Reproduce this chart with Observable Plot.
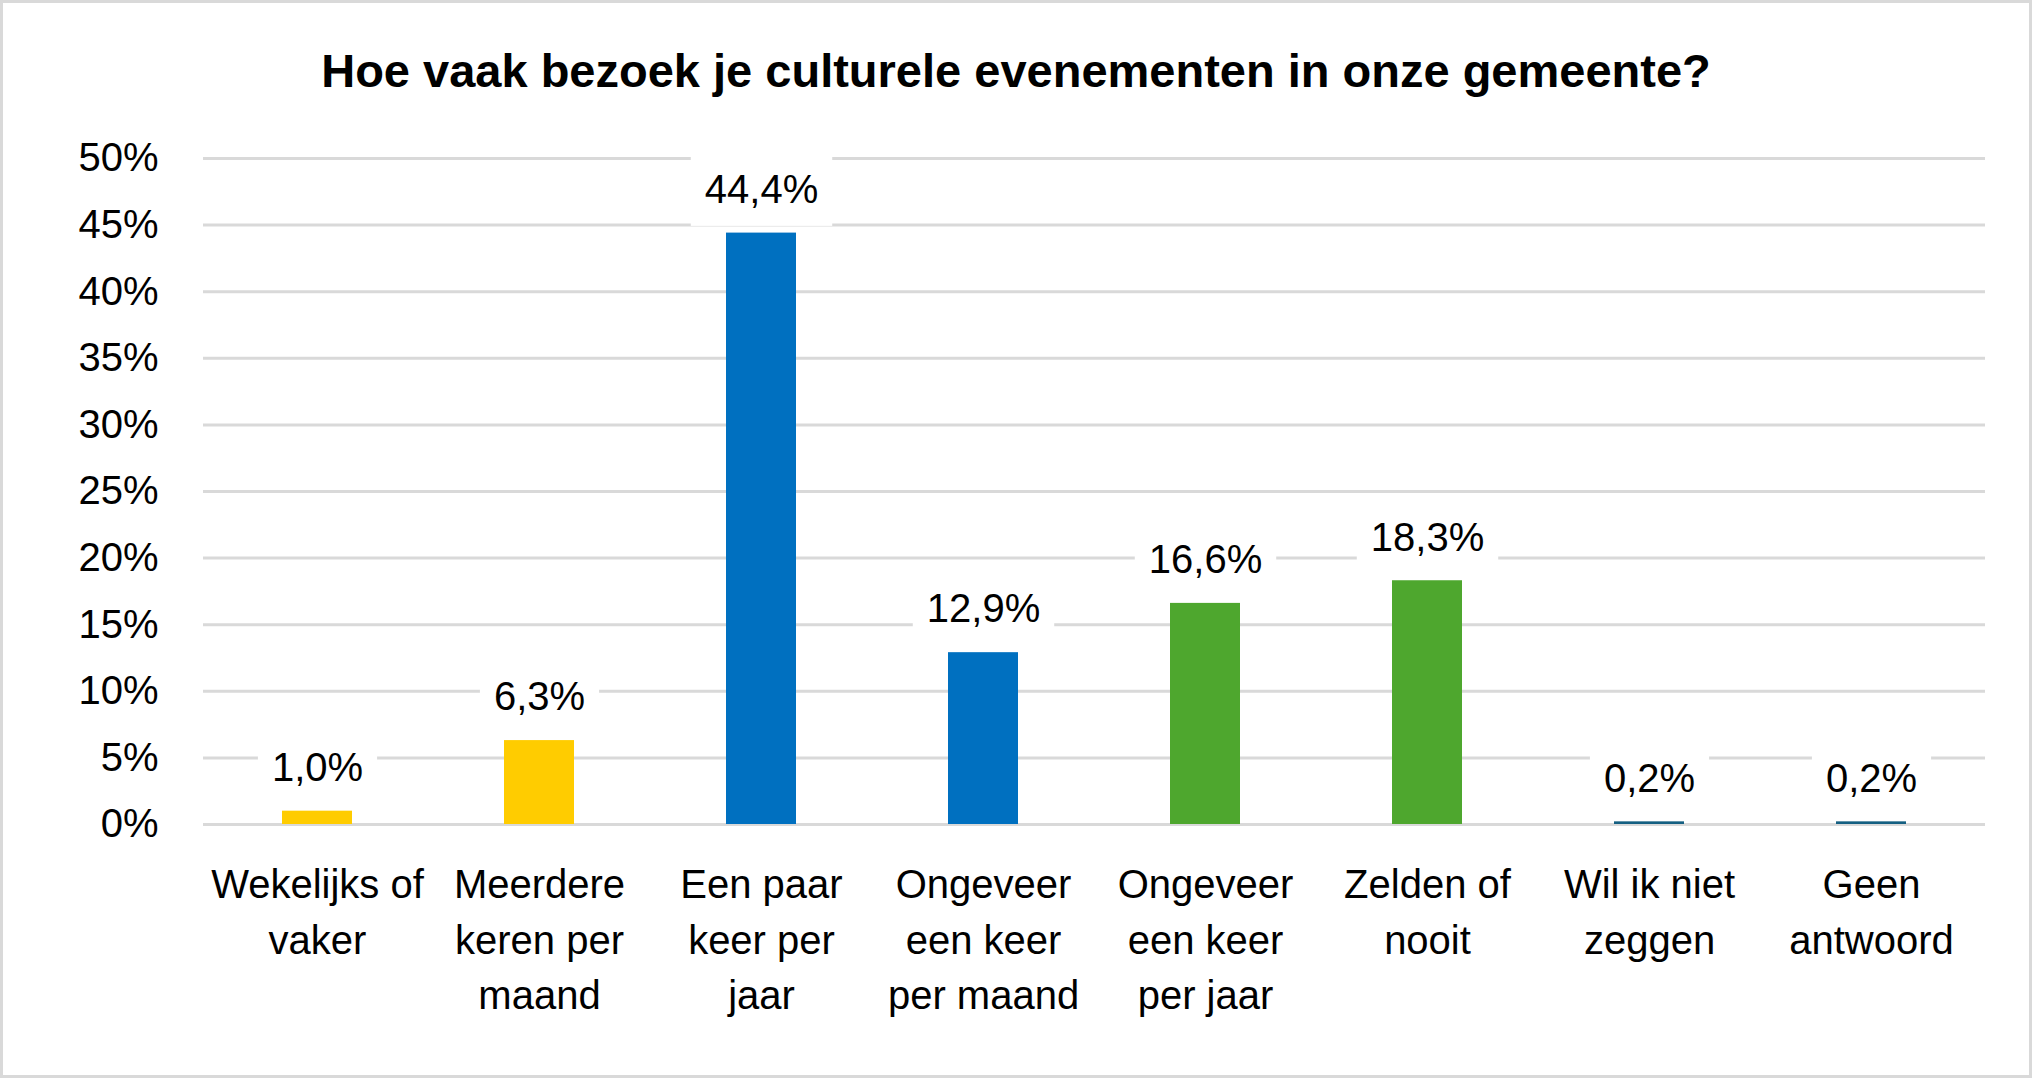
<!DOCTYPE html>
<html><head><meta charset="utf-8">
<script src="https://cdn.jsdelivr.net/npm/d3@7"></script>
<script src="https://cdn.jsdelivr.net/npm/@observablehq/plot@0.6"></script>
<style>
html,body{margin:0;padding:0;background:#fff;}
body{width:2032px;height:1078px;position:relative;overflow:hidden;font-family:"Liberation Sans",Arial,sans-serif;}
#frame{position:absolute;left:0;top:0;width:2032px;height:1078px;box-sizing:border-box;border:3px solid #d9d9d9;pointer-events:none;}
#title{position:absolute;left:0;top:43px;width:2032px;text-align:center;font-size:47px;font-weight:bold;line-height:56px;color:#000;}
#chart{position:absolute;left:0;top:110px;}
</style></head><body>
<div id="title">Hoe vaak bezoek je culturele evenementen in onze gemeente?</div>
<div id="chart"></div>
<div id="frame"></div>
<script>
const categories = [
  "Wekelijks of vaker",
  "Meerdere keren per maand",
  "Een paar keer per jaar",
  "Ongeveer een keer per maand",
  "Ongeveer een keer per jaar",
  "Zelden of nooit",
  "Wil ik niet zeggen",
  "Geen antwoord"
];
const tickLabels = [
  "Wekelijks of\nvaker",
  "Meerdere\nkeren per\nmaand",
  "Een paar\nkeer per\njaar",
  "Ongeveer\neen keer\nper maand",
  "Ongeveer\neen keer\nper jaar",
  "Zelden of\nnooit",
  "Wil ik niet\nzeggen",
  "Geen\nantwoord"
];
const values = [1.0, 6.3, 44.4, 12.9, 16.6, 18.3, 0.2, 0.2];
const valueLabels = ["1,0%", "6,3%", "44,4%", "12,9%", "16,6%", "18,3%", "0,2%", "0,2%"];
const colors = ["#FFCC00", "#FFCC00", "#0070C0", "#0070C0", "#4EA72E", "#4EA72E", "#156082", "#156082"];
const yTicks = [0, 5, 10, 15, 20, 25, 30, 35, 40, 45, 50];

const data = categories.map((c, i) => ({category: c, value: values[i], label: valueLabels[i], color: colors[i]}));
const tickMap = new Map(categories.map((c, i) => [c, tickLabels[i]]));
const FONT = '"Liberation Sans", Arial, sans-serif';

const plot = Plot.plot({
  width: 2032, height: 965,
  marginTop: 48, marginBottom: 251, marginLeft: 203, marginRight: 47,
  style: {fontFamily: FONT, fontSize: "40px", color: "#000", background: "#fff"},
  x: {domain: categories, padding: 0, label: null},
  y: {domain: [0, 50], label: null},
  color: {type: "identity"},
  marks: [
    Plot.gridY(yTicks, {stroke: "#d9d9d9", strokeOpacity: 1, strokeWidth: 3}),
    Plot.axisY(yTicks, {tickSize: 0, tickPadding: 45, tickFormat: d => d + "%", fontSize: 40, label: null}),
    Plot.axisX({tickSize: 0, tickPadding: 34, tickFormat: d => tickMap.get(d), fontSize: 40, lineHeight: 1.39, label: null}),
    Plot.barY(data, {x: "category", y: "value", fill: "color", insetLeft: 76, insetRight: 76}),
    Plot.text(data, {x: "category", y: "value", text: "label", dy: -43, fontSize: 40, fill: "#000", className: "vlabel"})
  ]
});
document.getElementById("chart").append(plot);

// white label boxes behind data labels (Excel-style), hiding gridlines
d3.select(plot).selectAll(".vlabel text").each(function() {
  const b = this.getBBox();
  const cy = b.y + b.height / 2;
  const r = document.createElementNS("http://www.w3.org/2000/svg", "rect");
  r.setAttribute("x", b.x - 14);
  r.setAttribute("width", b.width + 28);
  r.setAttribute("y", cy - 37);
  r.setAttribute("height", 74);
  r.setAttribute("fill", "#fff");
  const t = this.getAttribute("transform");
  if (t) r.setAttribute("transform", t);
  this.parentNode.insertBefore(r, this);
});
</script>
</body></html>
